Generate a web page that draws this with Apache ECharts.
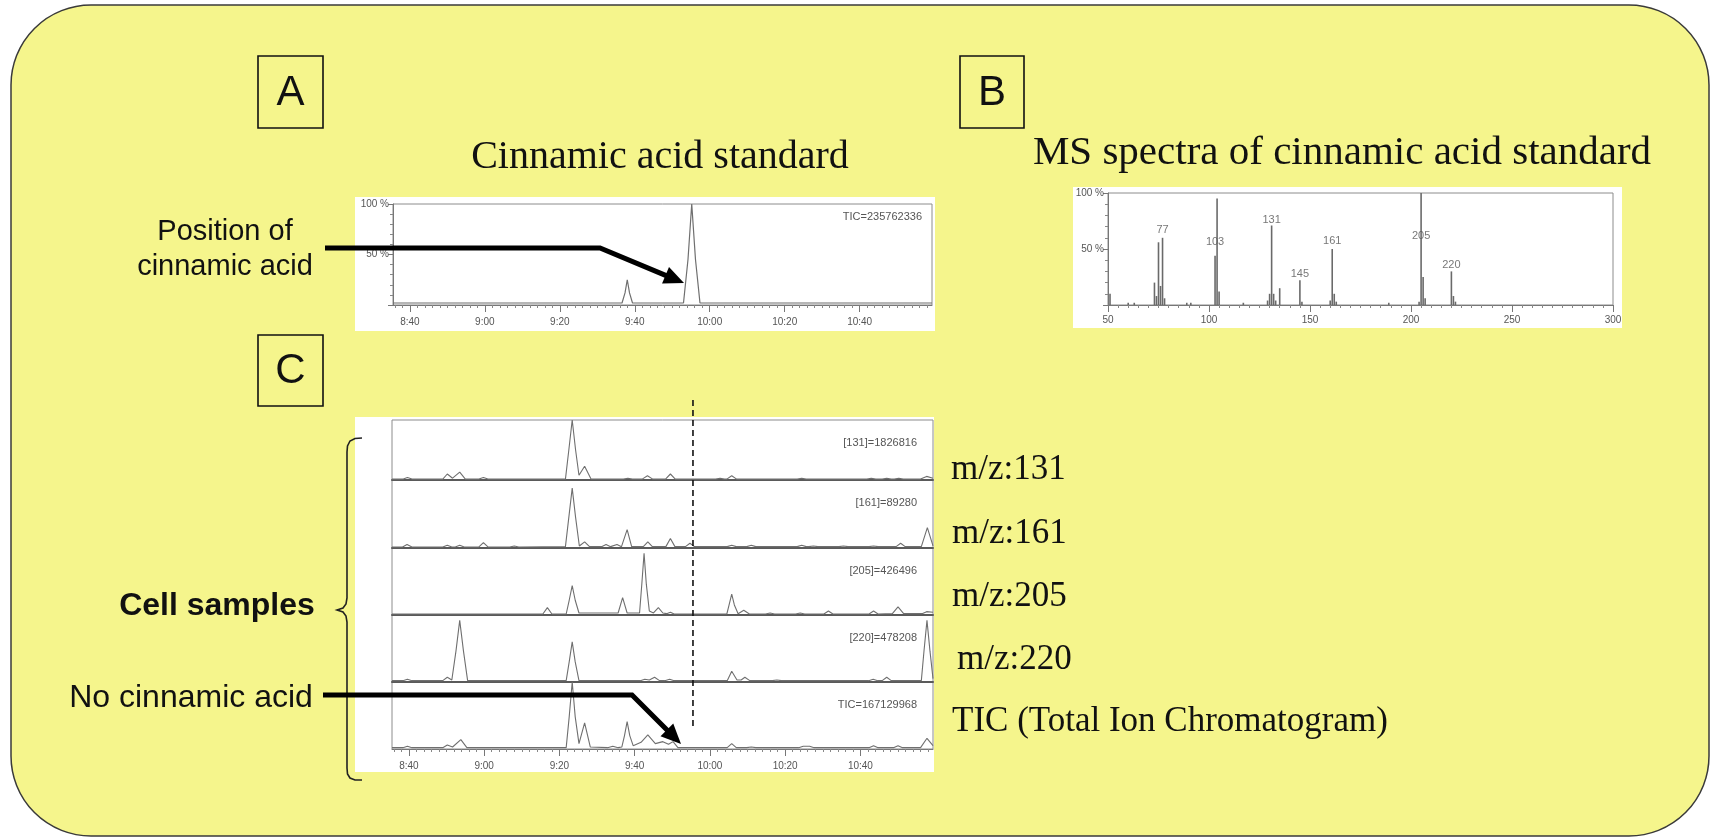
<!DOCTYPE html>
<html>
<head>
<meta charset="utf-8">
<script src="https://cdn.jsdelivr.net/npm/echarts@6/dist/echarts.min.js"></script>
<style>
  html, body { margin: 0; padding: 0; background: #ffffff; }
  #chart { width: 1711px; height: 838px; }
</style>
</head>
<body>
<div id="chart"></div>
<script>
// retention time axis (seconds), labels as printed
var timeTickValues = [520, 540, 560, 580, 600, 620, 640];
var timeTickLabels = ['8:40', '9:00', '9:20', '9:40', '10:00', '10:20', '10:40'];
var tMin = 515.5, tMax = 659.3;

// A: cinnamic acid standard TIC  [time, %]
var stdTrace = [[515.5, 2], [576.6, 2], [577.4, 12], [578, 25], [578.6, 12], [579.4, 2],
  [593, 2], [594.2, 45], [595.2, 100], [596.2, 45], [597.4, 2], [659.3, 2]];
var stdLabel = 'TIC=235762336';

// B: MS spectrum  m/z and relative intensity
var specMz = [51, 60, 63, 73, 74, 75, 76, 77, 78, 89, 91, 103, 104, 105, 117, 129, 130, 131, 132, 133, 135,
  145, 146, 160, 161, 162, 163, 189, 204, 205, 206, 207, 220, 221, 222];
var specInt = [10, 2, 2, 20, 8, 56, 17, 60, 6, 2, 2, 44, 95, 12, 2, 4, 10, 71, 10, 4, 15,
  22, 3, 4, 50, 10, 3, 2, 3, 100, 25, 6, 30, 8, 3];
var specLabelMz = [77, 103, 131, 145, 161, 205, 220];
var specLabelAt = [67, 56, 76, 28, 57, 62, 36];

// C: cell samples, extracted ion chromatograms + TIC  [time, %]
var ion131 = [[515.5, 1.5], [518.5, 1.5], [519.6, 4], [520.8, 1.5], [529, 1.5], [530.2, 10], [531.6, 3], [533.5, 13], [535, 1.5],
  [538.6, 1.5], [539.8, 4], [541, 1.5], [561.6, 1.5], [562.5, 50], [563.4, 100], [564.3, 50], [565.2, 8], [566.7, 23], [568.4, 1.5],
  [577, 1.5], [578.2, 3], [579.4, 1.5], [582, 1.5], [583.4, 7], [584.8, 1.5], [588.2, 1.5], [589.5, 10], [590.8, 1.5],
  [601.5, 1.5], [602.7, 3], [603.9, 1.5], [604.5, 1.5], [605.8, 7], [607.1, 1.5], [623.2, 1.5], [624.4, 3], [625.6, 1.5],
  [641.7, 1.5], [642.9, 3], [644.1, 1.5], [645.8, 1.5], [647, 3], [648.2, 1.5], [649, 1.5], [650.2, 3], [651.4, 1.5],
  [656, 1.5], [657.6, 6], [659.3, 3]];
var ion161 = [[515.5, 1.5], [518.3, 1.5], [519.5, 5], [520.8, 1.5], [529, 1.5], [530.2, 4], [531.4, 1.5], [532.3, 1.5], [533.5, 4], [534.7, 1.5],
  [538.6, 1.5], [539.8, 8], [541, 1.5], [546.8, 1.5], [548, 3], [549.2, 1.5], [561.6, 2], [562.5, 45], [563.4, 88], [564.3, 45], [565.3, 3],
  [566.7, 9], [568, 2], [571.2, 2], [572.4, 5], [573.6, 2], [574.1, 3], [575.3, 5], [576.5, 2], [576.8, 2], [578, 27], [579.2, 2],
  [582.3, 2], [583.5, 9], [584.7, 2], [588.3, 2], [589.5, 14], [590.7, 2], [593.5, 2], [594.7, 7], [595.9, 2],
  [604.6, 2], [605.8, 4], [607, 2], [609.8, 2], [611, 4], [612.2, 2], [623.2, 2], [624.4, 4], [625.6, 2], [626.3, 2], [627.5, 3], [628.7, 2],
  [634.3, 2], [635.5, 3], [636.7, 2], [642.3, 2], [643.5, 3], [644.7, 2], [649.5, 2], [650.7, 7], [651.9, 2], [656.2, 2], [657.8, 30], [659.3, 3]];
var ion205 = [[515.5, 1.5], [555.6, 1.5], [556.8, 11], [558, 1.5], [561.8, 1.5], [562.6, 22], [563.4, 44], [564.2, 22], [565.2, 3],
  [575.6, 3], [576.8, 26], [578, 3], [581.3, 3], [581.9, 46], [582.5, 92], [583.1, 46], [583.9, 6], [585, 3], [586.3, 11], [587.5, 3],
  [588.5, 2], [589.5, 4], [590.5, 1.5], [604.5, 1.5], [605.1, 15], [605.8, 31], [606.5, 15], [607.5, 2], [609, 7], [610.5, 1.5],
  [614.8, 1.5], [616, 3], [617.2, 1.5], [622.8, 1.5], [624, 3], [625.2, 1.5], [630.3, 1.5], [631.5, 6], [632.7, 1.5],
  [642.3, 1.5], [643.5, 6], [644.7, 1.5], [648.5, 2], [650, 12], [651.5, 2], [656.4, 2], [657.6, 5], [659.3, 4]];
var ion220 = [[515.5, 2], [518.4, 2], [519.6, 4], [520.8, 2], [529, 2], [530.2, 7], [531.4, 3], [532.5, 46], [533.5, 92], [534.5, 46], [535.6, 2],
  [561.8, 2], [562.6, 30], [563.4, 60], [564.2, 30], [565.2, 2], [581.5, 2], [582.7, 4], [583.9, 3], [585.3, 7], [586.6, 2], [588, 2], [589.3, 4], [590.5, 2],
  [604.6, 2], [605.8, 16], [607.2, 3], [608.3, 3], [609.3, 7], [610.6, 2], [616.6, 2], [617.8, 3], [619, 2],
  [642.2, 2], [643.4, 4], [644.6, 2], [645.8, 2], [647, 7], [648.2, 2], [656.2, 2], [656.9, 46], [657.7, 92], [658.5, 46], [659.3, 5]];
var ticCell = [[515.5, 2], [518.4, 2], [519.6, 4], [520.8, 2], [529, 2], [530.2, 6], [531.6, 3], [533.8, 14], [535.4, 2],
  [561.8, 2], [562.6, 48], [563.4, 100], [564.2, 48], [565.2, 8], [566.7, 39], [568.2, 3], [572.8, 2], [574.2, 4], [575.6, 2],
  [576.6, 3], [577.3, 20], [578, 41], [578.7, 20], [579.6, 5], [581.7, 10], [583.5, 21], [585.5, 8], [587.5, 11], [589, 7], [590.2, 11], [591.5, 2],
  [604.6, 2], [605.8, 8], [607, 2], [609.8, 2], [611, 3], [612.2, 2], [623.6, 2], [624.8, 4], [626.5, 4], [627.7, 2],
  [642.3, 2], [643.5, 5], [644.7, 2], [648.8, 2], [650, 5], [651.2, 2], [656, 2], [657.7, 16], [659.3, 5]];
var cellTraces = [ion131, ion161, ion205, ion220, ticCell];
var cellInnerLabels = ['[131]=1826816', '[161]=89280', '[205]=426496', '[220]=478208', 'TIC=167129968'];
var cellSideLabels = ['m/z:131', 'm/z:161', 'm/z:205', 'm/z:220', 'TIC (Total Ion Chromatogram)'];
var cinnamicTime = 595.5;

var chart = echarts.init(document.getElementById('chart'));

var SANS = 'Liberation Sans, Arial, sans-serif';
var NARROW = 'Liberation Sans Narrow, Liberation Sans, sans-serif';
var SERIF = 'Liberation Serif, Times New Roman, serif';
var tickFont = { fontFamily: NARROW, fontSize: 10, color: '#555' };
var frameColor = '#8c8c8c';

// layout of the panels
var gridA = { left: 393, top: 204, width: 539, height: 101 };
var gridB = { left: 1108, top: 193, width: 505, height: 112 };
var cTops = [420, 480, 548, 615, 682];
var cHeights = [60, 68, 67, 67, 67];

var minorTimes = [];
for (var t = 516; t <= 658; t += 2) {
    if (timeTickValues.indexOf(t) < 0) minorTimes.push(t);
}
function fmtTime(v) {
    var i = timeTickValues.indexOf(v);
    return i >= 0 ? timeTickLabels[i] : '';
}

function timeAxis(gi, labelled, lineColor, lineWidth) {
    return {
        type: 'value', gridIndex: gi, min: tMin, max: tMax, position: 'bottom',
        axisLine: { show: true, onZero: false, lineStyle: { color: lineColor, width: lineWidth } },
        axisTick: { show: labelled, customValues: timeTickValues, length: 7, lineStyle: { color: '#777' } },
        axisLabel: Object.assign({ show: labelled, customValues: timeTickValues, formatter: fmtTime, margin: 12 }, tickFont),
        splitLine: { show: false }
    };
}
function minorAxis(gi) {
    return {
        type: 'value', gridIndex: gi, min: tMin, max: tMax, position: 'bottom',
        axisLine: { show: false },
        axisTick: { show: true, customValues: minorTimes, length: 3, lineStyle: { color: '#888' } },
        axisLabel: { show: false },
        splitLine: { show: false }
    };
}
function pctAxis(gi) {
    return {
        type: 'value', gridIndex: gi, min: 0, max: 100, interval: 50,
        axisLine: { show: true, lineStyle: { color: '#777' } },
        axisTick: { show: true, length: 5, lineStyle: { color: '#777' } },
        minorTick: { show: true, splitNumber: 5, length: 3, lineStyle: { color: '#888' } },
        axisLabel: Object.assign({ margin: 4, formatter: function (v) { return v ? v + ' %' : ''; } }, tickFont),
        splitLine: { show: false }
    };
}

var grids = [
    Object.assign({ show: true, borderColor: frameColor, borderWidth: 1 }, gridA),
    Object.assign({ show: true, borderColor: frameColor, borderWidth: 1 }, gridB)
];
var xAxes = [timeAxis(0, true, '#777', 1), minorAxis(0), {
    type: 'value', gridIndex: 1, min: 50, max: 300, interval: 50,
    axisLine: { show: true, lineStyle: { color: '#777' } },
    axisTick: { show: true, length: 7, lineStyle: { color: '#777' } },
    minorTick: { show: true, splitNumber: 10, length: 3, lineStyle: { color: '#888' } },
    axisLabel: Object.assign({ margin: 10 }, tickFont),
    splitLine: { show: false }
}];
var yAxes = [pctAxis(0), pctAxis(1)];
var series = [{
    type: 'line', xAxisIndex: 0, yAxisIndex: 0, data: stdTrace, symbol: 'none',
    lineStyle: { color: '#6f6f6f', width: 1.2 }, silent: true
}, {
    type: 'bar', xAxisIndex: 2, yAxisIndex: 1, barWidth: 1.6,
    data: specMz.map(function (m, i) { return [m, specInt[i]]; }),
    itemStyle: { color: '#6a6a6a' }, silent: true
}, {
    type: 'scatter', xAxisIndex: 2, yAxisIndex: 1, symbolSize: 0,
    data: specLabelMz.map(function (m, i) { return [m, specLabelAt[i]]; }),
    label: Object.assign({ show: true, position: 'inside', formatter: function (p) { return p.value[0]; } }, tickFont, { fontSize: 11 }),
    silent: true
}];

cellTraces.forEach(function (tr, k) {
    var gi = 2 + k;
    var last = k === cellTraces.length - 1;
    grids.push({ show: true, borderColor: frameColor, borderWidth: 1, left: 392, width: 541, top: cTops[k], height: cHeights[k] });
    xAxes.push(timeAxis(gi, last, last ? '#777' : '#5a5a5a', last ? 1 : 2));
    yAxes.push({ type: 'value', gridIndex: gi, min: 0, max: 100, show: false });
    series.push({
        type: 'line', xAxisIndex: xAxes.length - 1, yAxisIndex: yAxes.length - 1, data: tr, symbol: 'none',
        lineStyle: { color: '#6f6f6f', width: 1.1 }, silent: true
    });
});
xAxes.push(minorAxis(2 + cellTraces.length - 1));

chart.setOption({
    animation: false,
    backgroundColor: 'transparent',
    grid: grids,
    xAxis: xAxes,
    yAxis: yAxes,
    series: series
});

// ---------- annotations ----------
function txt(x, y, s, font, align, fill) {
    return {
        type: 'text', x: x, y: y, z: 100,
        style: { text: s, font: font, fill: fill || '#111', align: align || 'center', verticalAlign: 'middle' }
    };
}
function box(x, y, w, h, letter) {
    return [{
        type: 'rect', z: 100, shape: { x: x, y: y, width: w, height: h },
        style: { fill: 'none', stroke: '#111', lineWidth: 1.6 }
    }, txt(x + w / 2, y + h / 2 + 1, letter, '42px ' + SANS)];
}
function arrow(pts) {
    var a = pts[pts.length - 2], b = pts[pts.length - 1];
    var dx = b[0] - a[0], dy = b[1] - a[1], len = Math.sqrt(dx * dx + dy * dy);
    var ux = dx / len, uy = dy / len, hl = 20, hw = 9;
    var base = [b[0] - ux * hl, b[1] - uy * hl];
    var body = pts.slice(0, -1).concat([[b[0] - ux * (hl - 2), b[1] - uy * (hl - 2)]]);
    return [{
        type: 'polyline', z: 100, shape: { points: body },
        style: { stroke: '#000', lineWidth: 5, fill: null, lineJoin: 'miter' }
    }, {
        type: 'polygon', z: 100,
        shape: { points: [b, [base[0] - uy * hw, base[1] + ux * hw], [base[0] + uy * hw, base[1] - ux * hw]] },
        style: { fill: '#000' }
    }];
}

var cutX = chart.convertToPixel({ xAxisIndex: 3 }, cinnamicTime);

var g = [
    // yellow rounded background and white chart cards
    { type: 'rect', z: -10, shape: { x: 11, y: 5, width: 1698, height: 831, r: 80 },
      style: { fill: '#f5f58c', stroke: '#3a3a3a', lineWidth: 1.5 } },
    { type: 'rect', z: -9, shape: { x: 355, y: 197, width: 580, height: 134 }, style: { fill: '#ffffff' } },
    { type: 'rect', z: -9, shape: { x: 1073, y: 187, width: 549, height: 141 }, style: { fill: '#ffffff' } },
    { type: 'rect', z: -9, shape: { x: 355, y: 417, width: 579, height: 355 }, style: { fill: '#ffffff' } },

    txt(660, 157, 'Cinnamic acid standard', '40px ' + SERIF),
    txt(1342, 153, 'MS spectra of cinnamic acid standard', '41px ' + SERIF),
    txt(922, 217, stdLabel, '11px ' + NARROW, 'right', '#555'),

    txt(225, 232, 'Position of', '29px ' + SANS),
    txt(225, 267, 'cinnamic acid', '29px ' + SANS),
    txt(217, 606, 'Cell samples', 'bold 32px ' + SANS),
    txt(191, 698, 'No cinnamic acid', '32px ' + SANS),

    // bracket for the cell samples
    { type: 'polyline', z: 100,
      shape: { points: [[362, 438], [355, 438.5], [350, 441], [347.5, 446], [347, 452], [347, 598], [346, 604], [343, 608], [337, 610],
        [343, 612], [346, 616], [347, 622], [347, 768], [347.5, 774], [350, 778], [355, 780], [362, 780]] },
      style: { fill: null, stroke: '#222', lineWidth: 1.6 } },

    // dashed position line across the cell chromatograms
    { type: 'line', z: 100, shape: { x1: cutX, y1: 400, x2: cutX, y2: 728 },
      style: { stroke: '#111', lineWidth: 1.6, lineDash: [6, 4] } }
];
g = g.concat(box(258, 56, 65, 72, 'A'), box(960, 56, 64, 72, 'B'), box(258, 335, 65, 71, 'C'));
g = g.concat(arrow([[325, 248], [600, 248], [684, 283]]));
g = g.concat(arrow([[323, 695], [632, 695], [681, 744]]));

cellInnerLabels.forEach(function (s, k) {
    g.push(txt(917, cTops[k] + 23, s, '11px ' + NARROW, 'right', '#555'));
});
var sideY = [470, 534, 597, 660, 722];
var sideX = [951, 952, 952, 957, 952];
cellSideLabels.forEach(function (s, k) {
    g.push(txt(sideX[k], sideY[k], s, '35px ' + SERIF, 'left'));
});

chart.setOption({ graphic: g });
</script>
</body>
</html>
